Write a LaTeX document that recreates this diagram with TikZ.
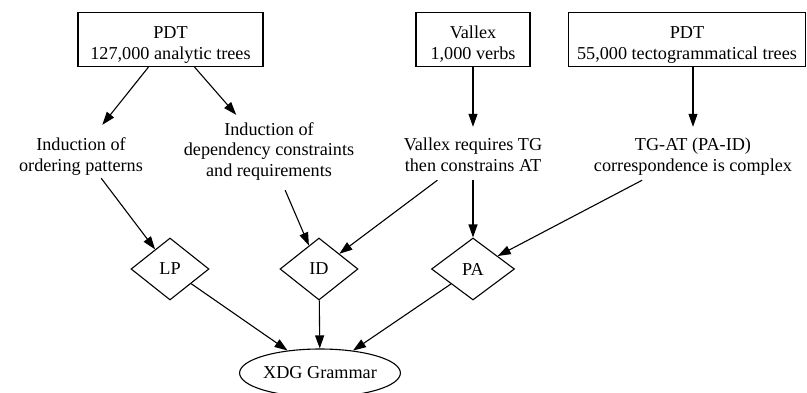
\documentclass[tikz,border=0pt]{standalone}
\usepackage{fontspec}
\setmainfont{Liberation Serif}
\usetikzlibrary{arrows.meta,shapes.geometric}
\tikzset{
	srcbox/.style={draw, line width=1.1pt, align=center, inner xsep=0pt, inner ysep=0pt, text height=46.5pt, text depth=7.5pt},
	note/.style={align=center, inner xsep=2pt, inner ysep=0pt, text height=46pt, text depth=7pt},
	decide/.style={draw, diamond, line width=1.1pt, inner sep=0pt, minimum width=78pt, minimum height=62pt},
	goal/.style={draw, ellipse, line width=1.1pt, inner sep=0pt, minimum width=154pt, minimum height=48pt},
	edge/.style={line width=1.1pt, -{Triangle[length=13pt,width=9pt]}}
}

\begin{document}
\begin{tikzpicture}[x=1pt, y=-1pt, font=\fontsize{18.2}{20.5}\selectfont]
			%%%%% START %%%%%
			\useasboundingbox (0, 0) rectangle (807, 392);
			
			\node[srcbox, minimum width=185pt] (pdtA) at (170.5, 39.5) {PDT\\127,000 analytic trees};
			\node[srcbox, minimum width=114pt] (vallex) at (473, 39.5) {Vallex\\1,000 verbs};
			\node[srcbox, minimum width=237pt] (pdtB) at (687, 39.5) {PDT\\55,000 tectogrammatical trees};
			
			\node[note] (indLP) at (81, 151.5) {Induction of\\ordering patterns};
			\node[note, text height=61pt, text depth=14pt] (indID) at (269, 152.5) {Induction of\\dependency constraints\\and requirements};
			\node[note, text height=44pt, text depth=9pt] (vreq) at (473, 153.5) {Vallex requires TG\\then constrains AT};
			\node[note, text height=44pt, text depth=9pt] (tgat) at (693, 153.5) {TG-AT (PA-ID)\\correspondence is complex};
			
			\node[decide] (lp) at (170, 269) {LP};
			\node[decide] (id) at (319, 269) {ID};
			\node[decide, minimum width=83pt] (pa) at (473, 269) {PA};
			
			\node[goal] (xdg) at (320, 373) {XDG Grammar};
			
			\draw[edge] (pdtA) -- (indLP);
			\draw[edge] (pdtA) -- (indID);
			\draw[edge] (vallex) -- (vreq);
			\draw[edge] (pdtB.south -| tgat.north) -- (tgat.north);
			
			\draw[edge] (indLP) -- (lp);
			\draw[edge] (indID) -- (id);
			\draw[edge] (vreq) -- (id);
			\draw[edge] (vreq) -- (pa);
			\draw[edge] (tgat) -- (pa);
			
			\draw[edge] (lp) -- (xdg);
			\draw[edge] (id) -- (xdg);
			\draw[edge] (pa) -- (xdg);
			%%%%% END %%%%%
\end{tikzpicture}
\end{document}
